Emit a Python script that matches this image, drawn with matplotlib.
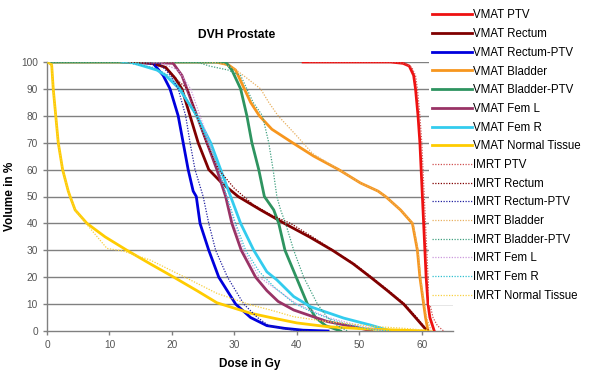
import numpy as np
import matplotlib
matplotlib.use("Agg")
import matplotlib.pyplot as plt

plt.rcParams['font.family'] = ['Liberation Sans', 'DejaVu Sans']

# dose (Gy) / volume (%) points, one pair per structure
vmat_ptv_dose = [41, 55, 57, 58, 58.7, 59, 59.4, 59.7, 59.9, 60.1, 60.3, 60.5, 60.7, 61, 61.3, 62]
vmat_ptv_vol = [100, 100, 99.5, 98.5, 95, 90, 80, 70, 60, 50, 40, 30, 20, 10, 5, 0]

vmat_rectum_dose = [12, 17, 19, 20.5, 21.6, 22.9, 24.2, 25.9, 28, 30.6, 34.2, 38, 42, 45.7, 49, 51.8, 54.5, 57.1, 59, 60.5, 61]
vmat_rectum_vol = [100, 99.5, 98, 94, 90, 80, 70, 60, 55, 50, 45, 40, 35, 30, 25, 20, 15, 10, 5, 1, 0]

vmat_rptv_dose = [14, 17, 18.6, 19.7, 21.0, 21.8, 22.6, 23.4, 23.9, 24.5, 25.9, 27.5, 30.2, 32.6, 35.2, 38, 41, 45]
vmat_rptv_vol = [100, 99.5, 95, 90, 80, 70, 60, 52, 50, 40, 30, 20, 10, 5, 2, 1, 0.3, 0]

vmat_bladder_dose = [0, 27, 29, 30.2, 31, 31.6, 32.6, 34, 36, 39.3, 42.7, 46.7, 50.2, 53, 54.2, 56.6, 58.5, 59.3, 59.7, 60.3, 60.6, 61]
vmat_bladder_vol = [100, 100, 99, 97, 93, 90, 85, 80, 75, 70, 65, 60, 55, 52, 50, 45, 40, 30, 20, 10, 5, 0]

vmat_bptv_dose = [0, 28.6, 29.6, 30.4, 31, 32, 32.8, 33.9, 34.8, 36.3, 37.1, 38.1, 39.9, 41.7, 43, 44.6, 47]
vmat_bptv_vol = [100, 100, 97, 93, 90, 80, 70, 60, 50, 45, 40, 30, 20, 10, 5, 2, 0]

vmat_feml_dose = [15, 20.2, 21.6, 22.4, 24, 25.6, 27.2, 28.6, 29.6, 31.1, 33.4, 35.2, 37, 39.5, 44.9, 49.1, 52]
vmat_feml_vol = [100, 99.5, 95, 90, 80, 70, 60, 50, 40, 30, 20, 15, 11, 7.8, 3.5, 1.6, 0]

vmat_femr_dose = [12, 13.3, 17.6, 19, 21.2, 24, 26.2, 27.8, 29.4, 31, 33.1, 35.2, 36.8, 39.5, 42.2, 47.5, 51.8, 55]
vmat_femr_vol = [100, 100, 97, 95, 90, 80, 70, 60, 50, 40, 30, 22, 19, 12.8, 9, 4.8, 2.2, 0]

vmat_nt_dose = [0, 0.2, 0.75, 1.0, 1.4, 1.8, 2.5, 3.4, 3.7, 4.5, 6.4, 9.3, 12.8, 16.5, 20.3, 24, 27.2, 32.6, 35.8, 40, 44.9, 50, 55.5, 61]
vmat_nt_vol = [100, 100, 98.9, 90, 80, 70, 60, 52, 50, 45, 40, 35, 30, 25, 20, 15, 10.5, 6.6, 5.0, 3, 1.6, 0.9, 0.4, 0]

imrt_ptv_dose = [42, 55, 57.3, 58.4, 59, 59.3, 59.7, 60, 60.2, 60.4, 60.6, 60.8, 61, 61.3, 61.8, 62.5, 63.5]
imrt_ptv_vol = [100, 100, 99.5, 98, 95, 90, 80, 70, 60, 50, 40, 30, 20, 10, 5, 2, 0]

imrt_rectum_dose = [13, 16, 19, 21, 22.5, 24, 25.5, 27.5, 30, 33, 36, 39, 42.5, 45.8, 49.2, 52, 54.7, 57.3, 59.2, 60.6, 61.3]
imrt_rectum_vol = [100, 99.5, 98, 93, 90, 80, 70, 60, 53, 47, 43, 40, 35, 30, 25, 20, 15, 10, 5, 1, 0]

imrt_rptv_dose = [15, 18, 19.8, 21, 22.2, 22.9, 23.7, 25.0, 25.9, 27, 28.9, 31.5, 33.7, 35.5, 38, 40, 42]
imrt_rptv_vol = [100, 99.5, 95, 90, 80, 70, 60, 50, 40, 30, 20, 10, 5, 2, 0.8, 0.3, 0]

imrt_bladder_dose = [0, 26, 28, 30, 32, 34.2, 35.5, 37, 40, 42.5, 46.7, 50.2, 53, 54.2, 56.6, 58.6, 59.4, 59.8, 60.4, 60.8, 61.5]
imrt_bladder_vol = [100, 100, 99.5, 97.5, 94, 90, 85, 80, 72.5, 66, 60, 55, 52, 50, 45, 40, 30, 20, 10, 5, 0]

imrt_bptv_dose = [0, 24, 26, 29, 31, 32, 33, 34.5, 35.5, 36.2, 36.8, 37.4, 38.2, 39.5, 41.1, 43.3, 44.9, 46.5, 48.1]
imrt_bptv_vol = [100, 100, 98.5, 97, 95, 90, 85, 80, 70, 60, 50, 45, 40, 30, 20, 10, 5, 2, 0]

imrt_feml_dose = [17, 18, 21, 23, 24.5, 26, 27.5, 28.8, 30, 31.5, 34, 37, 40, 45, 50, 54]
imrt_feml_vol = [100, 100, 97, 90, 80, 70, 60, 50, 40, 30, 20, 15, 10, 5, 2, 0]

imrt_femr_dose = [12, 17, 19.5, 21.5, 23.8, 25.8, 27.5, 28.8, 30.2, 31.8, 34, 36.3, 39.5, 42, 44.9, 48, 52, 55]
imrt_femr_vol = [100, 98, 95, 90, 80, 70, 60, 50, 40, 30, 22, 16.5, 10.4, 7.5, 4.8, 2.5, 0.5, 0]

imrt_nt_dose = [0, 0.2, 0.75, 1.0, 1.4, 1.8, 2.5, 3.4, 3.7, 4.5, 6.6, 9.6, 12.2, 16.5, 21.9, 27.2, 32.6, 35.8, 39.5, 44.9, 52.9, 57.1, 62]
imrt_nt_vol = [100, 100, 98.9, 90, 80, 70, 60, 52, 50, 45, 39, 30.7, 29.7, 26.4, 20.2, 14, 9.7, 7.8, 5.3, 3.5, 1.6, 1.0, 0]

labels = ['VMAT PTV', 'VMAT Rectum', 'VMAT Rectum-PTV', 'VMAT Bladder',
          'VMAT Bladder-PTV', 'VMAT Fem L', 'VMAT Fem R', 'VMAT Normal Tissue',
          'IMRT PTV', 'IMRT Rectum', 'IMRT Rectum-PTV', 'IMRT Bladder',
          'IMRT Bladder-PTV', 'IMRT Fem L', 'IMRT Fem R', 'IMRT Normal Tissue']

doses = [vmat_ptv_dose, vmat_rectum_dose, vmat_rptv_dose, vmat_bladder_dose,
         vmat_bptv_dose, vmat_feml_dose, vmat_femr_dose, vmat_nt_dose,
         imrt_ptv_dose, imrt_rectum_dose, imrt_rptv_dose, imrt_bladder_dose,
         imrt_bptv_dose, imrt_feml_dose, imrt_femr_dose, imrt_nt_dose]
vols = [vmat_ptv_vol, vmat_rectum_vol, vmat_rptv_vol, vmat_bladder_vol,
        vmat_bptv_vol, vmat_feml_vol, vmat_femr_vol, vmat_nt_vol,
        imrt_ptv_vol, imrt_rectum_vol, imrt_rptv_vol, imrt_bladder_vol,
        imrt_bptv_vol, imrt_feml_vol, imrt_femr_vol, imrt_nt_vol]

vmat_colors = ['#EE1111', '#800000', '#0000DD', '#F7961E',
               '#2E9460', '#993366', '#33CCEE', '#FFCC00']
imrt_colors = ['#D05050', '#800000', '#2020A0', '#E8B060',
               '#40A080', '#CC99DD', '#30C0D0', '#F8D040']

fig = plt.figure(figsize=(5.9, 3.79), dpi=100)
ax = fig.add_axes([47/590, 48/379, 406/590, 269/379])

for i in range(16):
    if i < 8:
        ax.plot(doses[i], vols[i], color=vmat_colors[i], lw=2.0, label=labels[i],
                solid_joinstyle='round', zorder=3)
    else:
        ax.plot(doses[i], vols[i], color=imrt_colors[i - 8], lw=0.9, ls=(0, (1, 1.2)),
                label=labels[i], zorder=4)

ax.set_xlim(0, 65)
ax.set_ylim(0, 100)
ax.set_xticks(range(0, 61, 10))
ax.set_yticks(range(0, 101, 10))
for y in range(10, 101, 10):
    ax.axhline(y, color='#808080', lw=1.0, zorder=1)
for s in ['top', 'right']:
    ax.spines[s].set_visible(False)
for s in ['left', 'bottom']:
    ax.spines[s].set_color('#808080')
    ax.spines[s].set_linewidth(1.0)
ax.tick_params(axis='both', colors='#808080', labelcolor='#555555', labelsize=7.3,
               length=3, width=1.0)

fig.text(237/590, 1 - 35/379, 'DVH Prostate', ha='center', va='center',
         fontsize=8.7, fontweight='bold')
fig.text(250/590, 1 - 364/379, 'Dose in Gy', ha='center', va='center',
         fontsize=8.5, fontweight='bold')
fig.text(10/590, 1 - 196/379, 'Volume in %', ha='center', va='center',
         rotation=90, fontsize=8.5, fontweight='bold')

leg = fig.legend(loc='upper left', bbox_to_anchor=(429/590, 1 - 6/379),
                 fontsize=8.3, frameon=True, facecolor='white', edgecolor='none',
                 framealpha=1, fancybox=False, handlelength=3.4, handletextpad=0.1,
                 labelspacing=0.58, borderpad=0.3, borderaxespad=0)

fig.savefig('out.png', dpi=100)
